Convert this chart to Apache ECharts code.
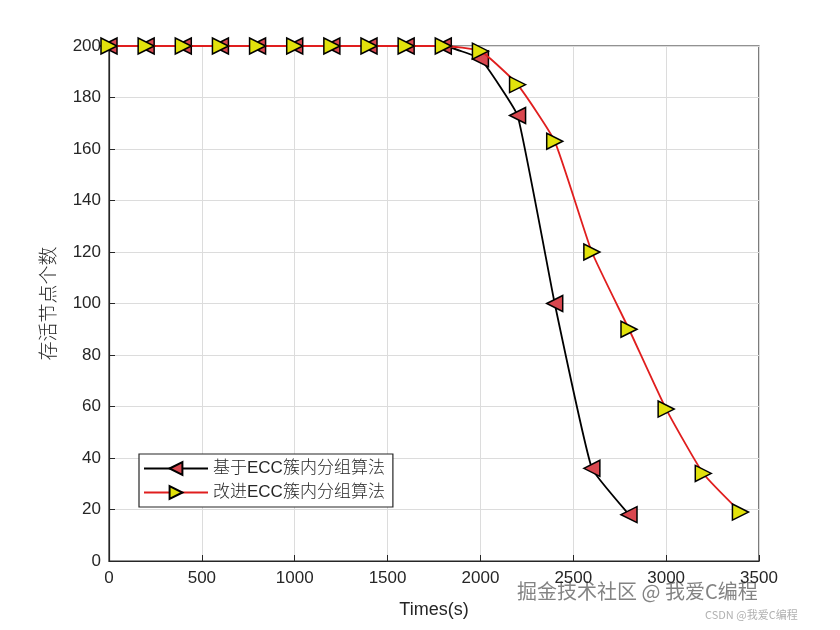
<!DOCTYPE html>
<html><head><meta charset="utf-8">
<script src="https://cdn.jsdelivr.net/npm/echarts@6/dist/echarts.min.js"></script>
<style>html,body{margin:0;padding:0;background:#fff}#c{width:840px;height:630px}</style>
</head><body><div id="c"></div>
<script>
const times = [0,200,400,600,800,1000,1200,1400,1600,1800,2000,2200,2400,2600,2800,3000,3200,3400];
const eccBase = [200,200,200,200,200,200,200,200,200,200,195,173,100,36,18];
const eccImproved = [200,200,200,200,200,200,200,200,200,200,198,185,163,120,90,59,34,19];
const seriesNames = ['基于ECC簇内分组算法','改进ECC簇内分组算法'];
const xTicks = {min:0,max:3500,interval:500};
const yTicks = {min:0,max:200,interval:20};

const pair = (xs, ys) => ys.map((v,i)=>[xs[i], v]);
const chart = echarts.init(document.getElementById('c'));
const axisFont = {fontFamily:'Liberation Sans, Arial', fontSize:17, color:'#262626', formatter:v=>String(v)};
chart.setOption({
  animation:false,
  backgroundColor:'#fff',
  grid:{left:109,right:81,top:46,bottom:69,show:true,borderColor:'#262626',borderWidth:1.2},
  xAxis:{type:'value',min:xTicks.min,max:xTicks.max,interval:xTicks.interval,
    name:'Times(s)',nameLocation:'middle',nameGap:40,
    nameTextStyle:{fontFamily:'Liberation Sans, Arial',fontSize:18,color:'#262626'},
    axisLine:{onZero:false,lineStyle:{color:'#262626',width:1.2}},
    axisTick:{inside:true,length:6,lineStyle:{color:'#262626'}},
    axisLabel:Object.assign({margin:9},axisFont),
    splitLine:{lineStyle:{color:'#dcdcdc',width:1}}},
  yAxis:{type:'value',min:yTicks.min,max:yTicks.max,interval:yTicks.interval,
    name:'存活节点个数',nameLocation:'middle',nameGap:52,
    nameTextStyle:{fontFamily:'Noto Sans CJK SC',fontWeight:300,fontSize:19,color:'#262626'},
    axisLine:{onZero:false,lineStyle:{color:'#262626',width:1.2}},
    axisTick:{inside:true,length:6,lineStyle:{color:'#262626'}},
    axisLabel:Object.assign({margin:8},axisFont),
    splitLine:{lineStyle:{color:'#dcdcdc',width:1}}},
  legend:{orient:'vertical',left:139,top:454,itemGap:7,itemWidth:64,itemHeight:16,
    padding:[6,8,6,4],borderColor:'#262626',borderWidth:1.2,backgroundColor:'#fff',
    textStyle:{fontFamily:'Liberation Sans, Noto Sans CJK SC',fontWeight:300,fontSize:17,color:'#262626'},
    data:seriesNames},
  series:[
    {name:seriesNames[0],type:'line',data:pair(times,eccBase),smooth:0.1,
     symbol:'triangle',symbolRotate:90,symbolSize:[16,16],
     lineStyle:{color:'#000',width:1.8},
     itemStyle:{color:'#d9474f',borderColor:'#000',borderWidth:1.5},z:3},
    {name:seriesNames[1],type:'line',data:pair(times,eccImproved),smooth:0.15,
     symbol:'triangle',symbolRotate:-90,symbolSize:[16,16],
     lineStyle:{color:'#e01e1e',width:1.8},
     itemStyle:{color:'#e2e20c',borderColor:'#000',borderWidth:1.5},z:4}
  ],
  graphic:[
    {type:'text',left:517,top:581,style:{text:'掘金技术社区 @ 我爱C编程',fontFamily:'Noto Sans CJK SC',fontSize:20,fill:'rgba(90,90,90,0.75)'}},
    {type:'text',left:705,top:609,style:{text:'CSDN @我爱C编程',fontFamily:'Noto Sans CJK SC',fontSize:11,fill:'rgba(150,150,150,0.75)'}}
  ]
});
</script></body></html>
